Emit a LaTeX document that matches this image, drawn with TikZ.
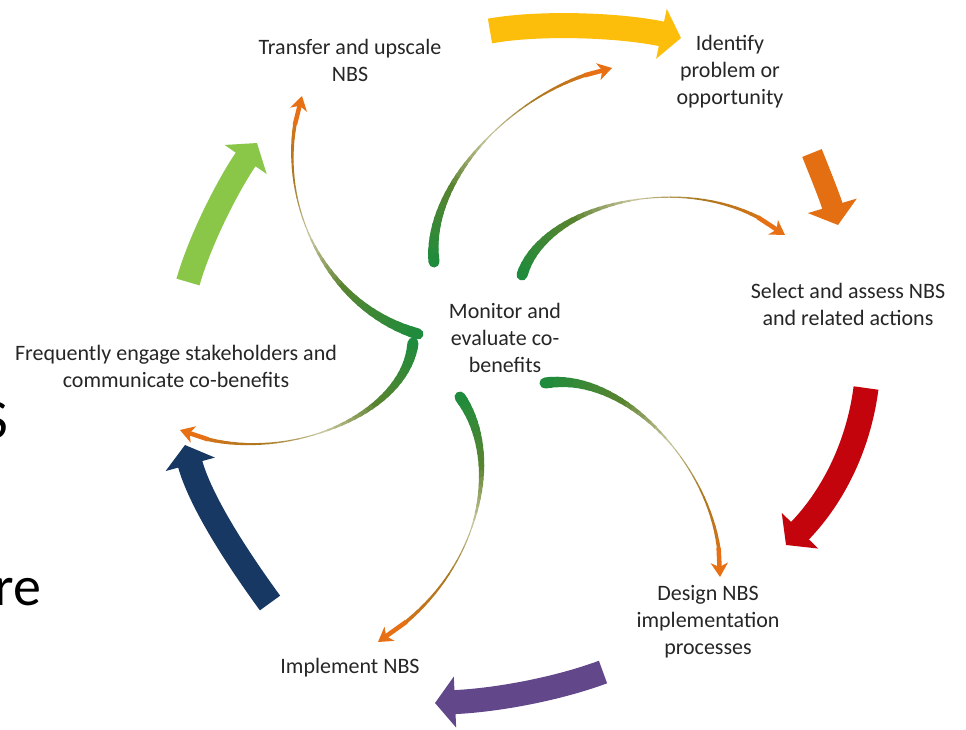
\documentclass[tikz,border=0pt]{standalone}
\usepackage{fontspec}
\setmainfont{Carlito}
\usetikzlibrary{arrows.meta}

\definecolor{cogreen}{RGB}{30,140,60}
\definecolor{coorange}{RGB}{232,112,20}
\definecolor{cyyellow}{RGB}{252,190,10}
\definecolor{cyorange}{RGB}{228,110,18}
\definecolor{cyred}{RGB}{196,4,12}
\definecolor{cypurple}{RGB}{98,72,138}
\definecolor{cynavy}{RGB}{22,56,98}
\definecolor{cylime}{RGB}{138,198,72}

\tikzset{
    % Broad coloured arrows running round the cycle
    cycle arrow/.style={line width=24pt, -{Triangle[length=20pt, width=50pt]}},
%
    % Labels of the stages
    stage label/.style={align=center, inner sep=0pt, text=black!85,
        font=\fontsize{22}{27}\selectfont},
%
    % Cut-off letters of the slide behind
    fragment/.style={inner sep=0pt, font=\fontsize{56}{64}\selectfont}}

% Tapered arrow from the centre: green and thick at its start,
% thin and pale in the middle, orange with a head at its end
\newcommand{\cobenefitarrow}[5]{%
    \foreach \k in {0,...,40}
        \path #2 .. controls #3 and #4 .. #5 coordinate[pos=\k/40] (#1-\k);
    \foreach \k in {0,...,35} {
        \pgfmathsetmacro{\t}{\k/40}
        \pgfmathsetmacro{\w}{1+10*max(1-1.9*\t,0)+4.5*max(2*\t-1,0)^2}
        \pgfmathtruncatemacro{\c}{100*\t}
        \pgfmathtruncatemacro{\p}{100-55*max(0,1-abs(2*\t-1)*2.5)}
        \pgfmathtruncatemacro{\kk}{\k+1}
        \draw[line width=\w pt, line cap=round, coorange!\c!cogreen!\p!white]
            (#1-\k) -- (#1-\kk);
    }
    \draw[line width=4.5pt, coorange,
        -{Stealth[length=14pt, width=17pt, inset=4pt]}]
        (#1-36) -- (#1-40);
}

\begin{document}
\begin{tikzpicture}[x=1pt, y=-1pt]
\fill[white] (0,0) rectangle (966,729);
\useasboundingbox (0,0) rectangle (966,729);

% Stages of the cycle
\node[stage label] at (350,60) (transfer) {Transfer and upscale\\NBS};
\node[stage label] at (730,72) (identify) {Identify\\problem or\\opportunity};
\node[stage label] at (848,304) (select) {Select and assess NBS\\and related actions};
\node[stage label] at (708,622) (design) {Design NBS\\implementation\\processes};
\node[stage label] at (350,668) (implement) {Implement NBS};
\node[stage label] at (176,366) (engage)
    {Frequently engage stakeholders and\\communicate co-benefits};
\node[stage label] at (505,338) (monitor) {Monitor and\\evaluate co-\\benefits};

% Letters of the slide cut by the left edge
\node[fragment, anchor=base east] at (8,438) (slide s) {S};
\node[fragment, anchor=base west] at (-6,605) (slide re) {re};


% Ends of the broad arrows
\coordinate (yellow tail) at (490,31);
\coordinate (yellow tip) at (681,38);
\coordinate (orange tail) at (812,153);
\coordinate (orange tip) at (838,225);
\coordinate (red tail) at (866,388);
\coordinate (red tip) at (786,545);
\coordinate (purple tail) at (603,672);
\coordinate (purple tip) at (435,703);
\coordinate (navy tail) at (270,603);
\coordinate (navy tip) at (185,445);
\coordinate (lime tail) at (188,282);
\coordinate (lime tip) at (257,143);

\draw[cycle arrow, cyyellow, line width=25pt]
    (yellow tail) .. controls (540,22) and (620,25) .. (yellow tip);
\draw[cycle arrow, cyorange, line width=21pt]
    (orange tail) .. controls (822,178) and (830,198) .. (orange tip);
\draw[cycle arrow, cyred, line width=25pt]
    (red tail) .. controls (858,450) and (830,500) .. (red tip);
\draw[cycle arrow, cypurple]
    (purple tail) .. controls (560,688) and (500,700) .. (purple tip);
\draw[cycle arrow, cynavy, line width=25pt]
    (navy tail) .. controls (235,555) and (200,500) .. (navy tip);
\draw[cycle arrow, cylime]
    (lime tail) .. controls (200,240) and (228,185) .. (lime tip);


% Arrows from monitoring out to every stage
\coordinate (to identify) at (612,68);
\coordinate (to select) at (785,235);
\coordinate (to design) at (720,577);
\coordinate (to implement) at (378,642);
\coordinate (to engage) at (180,430);
\coordinate (to transfer) at (302,96);

\cobenefitarrow{cb1}{(434,262)}{(425,180)}{(520,85)}{(to identify)}
\cobenefitarrow{cb2}{(522,275)}{(545,200)}{(700,165)}{(to select)}
\cobenefitarrow{cb3}{(545,383)}{(630,370)}{(725,480)}{(to design)}
\cobenefitarrow{cb4}{(460,397)}{(505,460)}{(480,580)}{(to implement)}
\cobenefitarrow{cb5}{(413,343)}{(405,420)}{(270,470)}{(to engage)}
\cobenefitarrow{cb6}{(418,334)}{(320,305)}{(270,190)}{(to transfer)}
\end{tikzpicture}
\end{document}
